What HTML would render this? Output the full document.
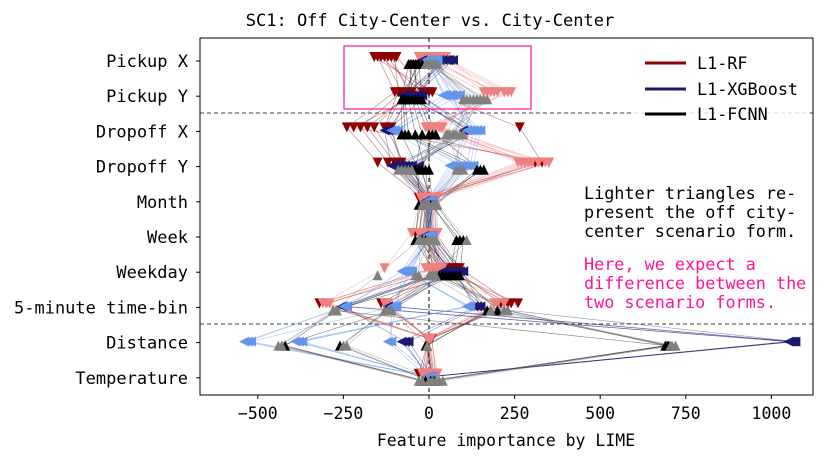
<!DOCTYPE html>
<html><head><meta charset="utf-8"><style>
body{margin:0;background:#fff}
svg{font-family:"DejaVu Sans Mono","Liberation Mono",monospace}
</style></head><body>
<svg id="c" width="830" height="465" xmlns="http://www.w3.org/2000/svg">
<text x="430" y="26" text-anchor="middle" font-size="17">SC1: Off City-Center vs. City-Center</text>
<g id="plot"></g>
<text x="506" y="446" text-anchor="middle" font-size="16.5">Feature importance by LIME</text>
<g font-size="16.8">
<rect x="632" y="45" width="178" height="85" fill="#fff" fill-opacity="0.8"/>
<g><line x1="645" y1="63" x2="686" y2="63" stroke="#8b0000" stroke-width="3"/><text x="697" y="69">L1-RF</text></g>
<g><line x1="645" y1="89" x2="686" y2="89" stroke="#191970" stroke-width="3"/><text x="697" y="95">L1-XGBoost</text></g>
<g><line x1="645" y1="114" x2="686" y2="114" stroke="#000" stroke-width="3"/><text x="697" y="120">L1-FCNN</text></g>
</g>
<g font-size="16.8">
<text x="584" y="199">Lighter triangles re-</text>
<text x="584" y="218">present the off city-</text>
<text x="584" y="237">center scenario form.</text>
</g>
<g font-size="16.8" fill="#ff1493">
<text x="584" y="270">Here, we expect a</text>
<text x="584" y="289">difference between the</text>
<text x="584" y="308">two scenario forms.</text>
</g>
</svg>
<script>
const features=["Pickup X","Pickup Y","Dropoff X","Dropoff Y","Month","Week","Weekday","5-minute time-bin","Distance","Temperature"];
const xTicks=[-500,-250,0,250,500,750,1000];
const rfCity=[[-150,-100,-240,-150,-20,-40,10,-320,0,-30],[-130,-80,-200,-120,0,-20,40,-140,5,-10],[-110,-60,-160,-90,10,0,70,210,-5,10],[-95,0,-110,-80,20,20,90,240,8,20],[-160,10,265,330,-30,10,30,260,-3,-20],[-140,-20,-220,350,-10,-30,60,-300,2,0],[-120,-50,-180,-100,5,15,80,-130,-2,15],[-100,-90,-130,310,15,-5,50,230,4,-15]];
const rfOff=[[-30,160,0,260,-25,-50,-130,-310,0,-20],[0,190,20,290,0,-10,0,-130,3,0],[20,220,40,320,15,10,20,190,-4,15],[40,240,-10,350,25,25,30,220,6,25],[10,170,30,270,-10,0,10,-290,2,-10],[-20,200,10,300,5,-30,40,-120,-2,5],[30,230,-5,280,-15,15,-10,200,1,-5],[50,180,35,340,20,-20,25,-300,-1,20]];
const xgbCity=[[-20,-80,-130,-110,-5,-15,40,-250,-70,-5],[50,-60,-110,-80,0,-10,60,-120,1060,0],[70,-40,100,-30,10,0,80,130,1070,5],[30,-30,140,-60,5,5,100,150,-60,10],[40,-70,120,-90,-10,-5,50,-240,1050,-5],[60,-50,-120,-70,0,10,90,-110,1065,0],[20,-20,110,-100,5,-5,70,140,-80,5],[55,-75,130,-50,-5,0,45,-255,1055,-5]];
const xgbOff=[[0,40,-110,60,-5,-10,-80,-240,-540,0],[10,60,-90,90,0,0,-60,-100,-520,5],[20,80,130,110,5,10,-70,120,-380,-5],[-10,50,150,130,10,-5,-50,-110,-110,10],[5,70,110,70,-5,5,-65,110,-370,0],[15,90,-100,100,0,0,-55,-250,-530,5],[-5,45,140,120,5,10,-75,-95,-120,-5],[25,65,120,80,-5,-5,-70,115,-390,0]];
const fcnnCity=[[-60,-80,-80,-30,-30,-40,20,-270,-420,-20],[-50,-60,-40,-10,0,-10,40,-120,-260,0],[-40,-40,0,0,10,80,60,170,-5,10],[-30,-20,20,150,20,100,90,200,700,20],[-20,-70,-60,160,-10,-20,30,230,690,5],[-55,-50,-20,-40,-20,-30,50,-110,-430,-10],[-45,-30,10,-20,5,90,70,180,-10,15],[-35,-75,-70,140,15,-15,80,-280,695,0]];
const fcnnOff=[[0,100,50,-90,-20,-30,-150,-280,-430,-30],[10,130,70,-70,0,0,-40,-130,-250,0],[20,150,90,80,15,20,10,-110,-5,20],[-10,170,60,100,25,110,20,220,710,40],[15,120,80,-60,-5,-15,0,180,720,10],[5,140,100,-80,10,-25,-30,-270,-440,-20],[-5,160,55,90,-10,10,5,-120,-240,30],[25,110,75,-50,20,-5,15,230,705,0]];

const NS="http://www.w3.org/2000/svg";
const L=200,R=813,T=38,B=395;
const xs=v=>429+v*0.3424;
const ys=i=>61+i*35.2;
const g=document.getElementById('plot');
function mk(t,a,p){const e=document.createElementNS(NS,t);for(const k in a)e.setAttribute(k,a[k]);(p||g).appendChild(e);return e;}
const defs=mk('defs',{});const cp=mk('clipPath',{id:'cl'},defs);mk('rect',{x:L,y:T,width:R-L,height:B-T},cp);
const inner=mk('g',{'clip-path':'url(#cl)'});


let e;
e=mk('line',{x1:xs(0),y1:T,x2:xs(0),y2:B,stroke:'#000','stroke-width':1,'stroke-dasharray':'4,3'},inner);


[113,324].forEach(y=>{const d=mk('line',{x1:L,y1:y,x2:R,y2:y,stroke:'#000','stroke-width':0.8,'stroke-dasharray':'4,3'},inner);

});
const series=[
 {d:rfCity,c:'#8b0000',m:'down',o:-4,n:'rf-city'},{d:rfOff,c:'#f08080',m:'down',o:-4,n:'rf-off'},
 {d:xgbCity,c:'#191970',m:'left',o:-1,n:'xgb-city'},{d:xgbOff,c:'#6495ed',m:'left',o:-1,n:'xgb-off'},
 {d:fcnnCity,c:'#000000',m:'up',o:3,n:'fcnn-city'},{d:fcnnOff,c:'#808080',m:'up',o:3,n:'fcnn-off'}];
series.forEach(s=>s.d.forEach(sm=>{
 const pl=mk('polyline',{points:sm.map((v,i)=>xs(v)+','+(ys(i)+s.o)).join(' '),fill:'none',stroke:s.c,'stroke-width':0.7,'stroke-opacity':0.45},inner);
 
 
}));
const r=5;
function tri(m,x,y){if(m=='down')return `${x-r},${y-r} ${x+r},${y-r} ${x},${y+r}`;
 if(m=='up')return `${x-r},${y+r} ${x+r},${y+r} ${x},${y-r}`;return `${x+r},${y-r} ${x+r},${y+r} ${x-r},${y}`;}
series.forEach(s=>s.d.forEach(sm=>sm.forEach((v,i)=>{
 const p=mk('polygon',{points:tri(s.m,xs(v),ys(i)+s.o),fill:s.c},inner);
 
 
})));
e=mk('rect',{x:344,y:46,width:187,height:63,fill:'none',stroke:'#ff1493','stroke-width':1.2});


e=mk('rect',{x:L,y:T,width:R-L,height:B-T,fill:'none',stroke:'#000','stroke-width':1});


features.forEach((f,i)=>{
 mk('line',{x1:L-4,y1:ys(i),x2:L,y2:ys(i),stroke:'#000'});
 const t=mk('text',{x:L-12,y:ys(i)+6,'text-anchor':'end','font-size':17});t.textContent=f;
 
 
});
xTicks.forEach(v=>{
 mk('line',{x1:xs(v),y1:B,x2:xs(v),y2:B+4,stroke:'#000'});
 const t=mk('text',{x:xs(v),y:B+24,'text-anchor':'middle','font-size':16.5});t.textContent=(v<0?'\u2212'+(-v):v);
 
 
});
</script>
</body></html>
